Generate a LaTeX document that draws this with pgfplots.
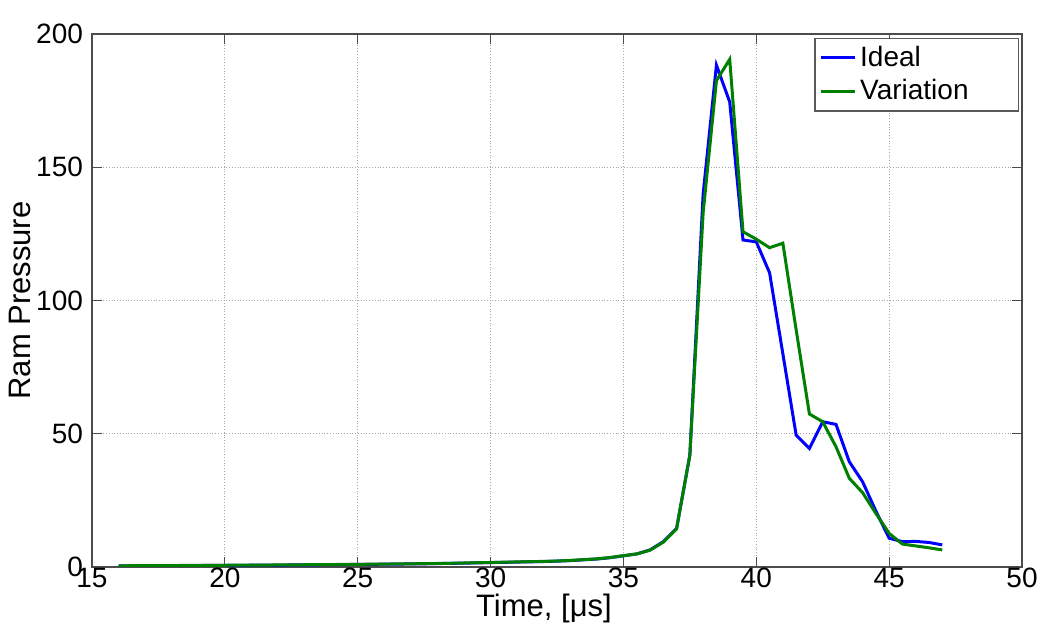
\documentclass[border=0pt]{standalone}
\usepackage{fontspec}
\setmainfont{Liberation Sans}
\usepackage{pgfplots}
\pgfplotsset{compat=1.18}
\usetikzlibrary{calc}
\definecolor{mblue}{rgb}{0,0,1}
\definecolor{mgreen}{rgb}{0,0.5,0}
\begin{document}
\begin{tikzpicture}
\begin{axis}[
  scale only axis,
  width=465pt, height=266.5pt,
  xmin=15, xmax=50, ymin=0, ymax=200,
  xtick={15,20,...,50}, ytick={0,50,...,200},
  grid=major,
  major grid style={densely dotted, gray!70, line width=0.5pt},
  tick align=inside, tick pos=both,
  major tick length=5pt,
  axis line style={gray!60!black, line width=0.6pt},
  every tick/.style={gray!60!black, line width=0.6pt},
  tick label style={font=\fontsize{14}{15}\selectfont},
  /pgf/number format/assume math mode=true,
  xticklabel style={yshift=3pt},
  yticklabel style={xshift=-1pt},
  xlabel={Time, [μs]},
  ylabel={Ram Pressure},
  label style={font=\fontsize{15.5}{17}\selectfont},
  xlabel style={at={(ticklabel cs:0.486)}, anchor=north, yshift=4pt},
  ylabel style={yshift=-4pt},
  legend style={at={(axis description cs:0.997,0.993)}, anchor=north east,
    font=\fontsize{14}{15}\selectfont, draw=gray!70!black, line width=0.6pt,
    inner xsep=2pt, inner ysep=2pt, row sep=1pt},
  legend cell align=left,
  legend image post style={line width=1.5pt},
]
\addplot[mblue, line width=1.5pt] coordinates {
(16,0.4)(16.5,0.42)(17,0.45)(17.5,0.48)(18,0.5)(18.5,0.52)(19,0.55)(19.5,0.58)(20,0.6)
(20.5,0.63)(21,0.66)(21.5,0.69)(22,0.72)(22.5,0.76)(23,0.8)(23.5,0.84)(24,0.88)(24.5,0.92)(25,0.96)
(25.5,1.0)(26,1.05)(26.5,1.1)(27,1.15)(27.5,1.2)(28,1.28)(28.5,1.36)(29,1.45)(29.5,1.55)(30,1.65)
(30.5,1.75)(31,1.85)(31.5,1.95)(32,2.05)(32.5,2.2)(33,2.4)(33.5,2.7)(34,3.0)(34.5,3.5)(35,4.2)
(35.5,4.9)(36,6.4)(36.5,9.5)(37,14.5)(37.5,42)(38,140)(38.5,188.3)(39,174.5)(39.5,122.7)(40,122)
(40.5,110.4)(41,80)(41.5,49.5)(42,44.5)(42.5,54.5)(43,53.5)(43.5,39.5)(44,32)(44.5,21)(45,10.8)
(45.5,9.5)(46,9.6)(46.5,9.2)(47,8.3)
};
\addlegendentry{Ideal}
\addplot[mgreen, line width=1.5pt] coordinates {
(16,0.45)(16.5,0.47)(17,0.5)(17.5,0.53)(18,0.55)(18.5,0.57)(19,0.6)(19.5,0.63)(20,0.65)
(20.5,0.68)(21,0.7)(21.5,0.73)(22,0.76)(22.5,0.8)(23,0.84)(23.5,0.88)(24,0.92)(24.5,0.96)(25,1.0)
(25.5,1.05)(26,1.1)(26.5,1.15)(27,1.2)(27.5,1.25)(28,1.32)(28.5,1.4)(29,1.5)(29.5,1.6)(30,1.7)
(30.5,1.8)(31,1.9)(31.5,2.0)(32,2.1)(32.5,2.25)(33,2.45)(33.5,2.75)(34,3.05)(34.5,3.55)(35,4.25)
(35.5,4.9)(36,6.3)(36.5,9.3)(37,14.3)(37.5,42)(38,133)(38.5,182.5)(39,190.5)(39.5,125.8)(40,123)
(40.5,119.8)(41,121.5)(41.5,89)(42,57.4)(42.5,54.5)(43,45.1)(43.5,33.3)(44,27.9)(44.5,20.1)(45,12.6)
(45.5,8.6)(46,7.9)(46.5,7.2)(47,6.4)
};
\addlegendentry{Variation\hspace*{21pt}}
\end{axis}
\path[use as bounding box] ($(current axis.south west)+(-46pt,-34pt)$) rectangle ($(current axis.north east)+(16pt,17pt)$);
\end{tikzpicture}
\end{document}
